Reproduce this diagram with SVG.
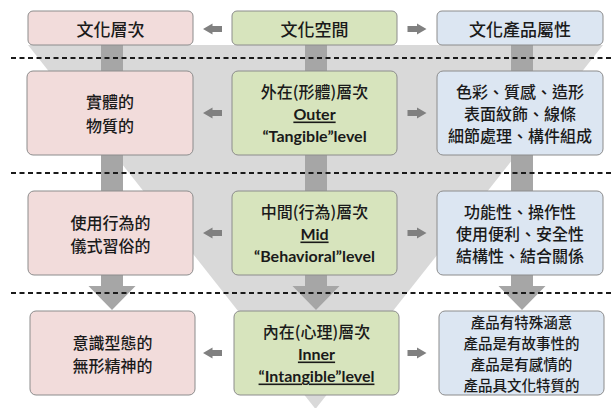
<svg xmlns="http://www.w3.org/2000/svg" width="614" height="408" viewBox="0 0 614 408">
<style>
.box{stroke:#8c8c8c;stroke-width:1}
.pink{fill:#f2dcdb}
.green{fill:#d7e4bd}
.blue{fill:#dce6f2}
.cjk{font-family:"Noto Sans CJK TC","Noto Sans CJK SC",sans-serif;font-size:16px;font-weight:500;fill:#1a1a1a;text-anchor:middle;dominant-baseline:central}
.hd{font-size:17px}
.sm{font-size:14.5px}
.en{font-family:Lato,"Open Sans","Liberation Sans",sans-serif;font-size:16px;font-weight:bold;fill:#1a1a1a;text-anchor:middle;dominant-baseline:central}
.ul{text-decoration:underline}
.dash{stroke:#1a1a1a;stroke-width:2;stroke-dasharray:5 3.5;fill:none}
.vshaft{fill:#a6a6a6}
.harrow{fill:#808080}
</style>
<defs>
<path id="larr" d="M-9.5,0 L0,-5.5 L0,-3 L9.5,-3 L9.5,3 L0,3 L0,5.5 Z"/>
<path id="rarr" d="M9.5,0 L0,-5.5 L0,-3 L-9.5,-3 L-9.5,3 L0,3 L0,5.5 Z"/>
<path id="varr" d="M-11,0 L11,0 L11,241 L23.5,241 L0,265 L-23.5,241 L-11,241 Z"/>
</defs>
<g id="background">
<polygon points="28,45 603,45 315.5,409" fill="#d9d9d9"/>
</g>
<g id="connectors">
<use href="#varr" x="112" y="45" class="vshaft"/>
<use href="#varr" x="316" y="45" class="vshaft"/>
<use href="#varr" x="522" y="45" class="vshaft"/>
<use href="#larr" x="212.5" y="29" class="harrow"/>
<use href="#rarr" x="417" y="29" class="harrow"/>
<use href="#larr" x="212.5" y="113" class="harrow"/>
<use href="#rarr" x="417" y="113" class="harrow"/>
<use href="#larr" x="212.5" y="233" class="harrow"/>
<use href="#rarr" x="417" y="233" class="harrow"/>
<use href="#larr" x="212.5" y="353" class="harrow"/>
<use href="#rarr" x="417" y="353" class="harrow"/>
</g>
<g id="dividers">
<line class="dash" x1="11" y1="58" x2="614" y2="58"/>
<line class="dash" x1="11" y1="173" x2="614" y2="173"/>
<line class="dash" x1="11" y1="293" x2="614" y2="293"/>
</g>
<g id="h-level">
<rect class="box pink" x="28" y="11" width="165" height="34" rx="5"/>
<text class="cjk hd" x="110.5" y="28.5">文化層次</text>
</g>
<g id="h-space">
<rect class="box green" x="232" y="11" width="165" height="34" rx="5"/>
<text class="cjk hd" x="314.5" y="28.5">文化空間</text>
</g>
<g id="h-attr">
<rect class="box blue" x="437" y="11" width="166" height="34" rx="5"/>
<text class="cjk hd" x="520" y="28.5">文化產品屬性</text>
</g>
<g id="r1-level">
<rect class="box pink" x="27" y="71" width="166" height="84" rx="6"/>
<text class="cjk" x="110" y="101">實體的</text>
<text class="cjk" x="110" y="125">物質的</text>
</g>
<g id="r1-space">
<rect class="box green" x="232" y="71" width="165" height="84" rx="6"/>
<text class="cjk" x="314.5" y="91">外在(形體)層次</text>
<text class="en ul" x="314.5" y="113">Outer</text>
<text class="en" x="314.5" y="135">“Tangible”level</text>
</g>
<g id="r1-attr">
<rect class="box blue" x="437" y="71" width="166" height="84" rx="6"/>
<text class="cjk" x="520" y="91">色彩、質感、造形</text>
<text class="cjk" x="520" y="113">表面紋飾、線條</text>
<text class="cjk" x="520" y="135">細節處理、構件組成</text>
</g>
<g id="r2-level">
<rect class="box pink" x="28" y="191" width="165" height="84" rx="6"/>
<text class="cjk" x="110.5" y="222">使用行為的</text>
<text class="cjk" x="110.5" y="245">儀式習俗的</text>
</g>
<g id="r2-space">
<rect class="box green" x="232" y="191" width="165" height="84" rx="6"/>
<text class="cjk" x="314.5" y="211">中間(行為)層次</text>
<text class="en ul" x="314.5" y="233">Mid</text>
<text class="en" x="314.5" y="255">“Behavioral”level</text>
</g>
<g id="r2-attr">
<rect class="box blue" x="437" y="191" width="166" height="84" rx="6"/>
<text class="cjk" x="520" y="211">功能性、操作性</text>
<text class="cjk" x="520" y="233">使用便利、安全性</text>
<text class="cjk" x="520" y="255">結構性、結合關係</text>
</g>
<g id="r3-level">
<rect class="box pink" x="30" y="311" width="165" height="84" rx="6"/>
<text class="cjk" x="112.5" y="342">意識型態的</text>
<text class="cjk" x="112.5" y="365">無形精神的</text>
</g>
<g id="r3-space">
<rect class="box green" x="234" y="311" width="165" height="84" rx="6"/>
<text class="cjk" x="316.5" y="331">內在(心理)層次</text>
<text class="en ul" x="316.5" y="353">Inner</text>
<text class="en ul" x="316.5" y="375">“Intangible”level</text>
</g>
<g id="r3-attr">
<rect class="box blue" x="439" y="311" width="165" height="84" rx="6"/>
<text class="cjk sm" x="521.5" y="321.5">產品有特殊涵意</text>
<text class="cjk sm" x="521.5" y="342.5">產品是有故事性的</text>
<text class="cjk sm" x="521.5" y="363.5">產品是有感情的</text>
<text class="cjk sm" x="521.5" y="384.5">產品具文化特質的</text>
</g>
</svg>
